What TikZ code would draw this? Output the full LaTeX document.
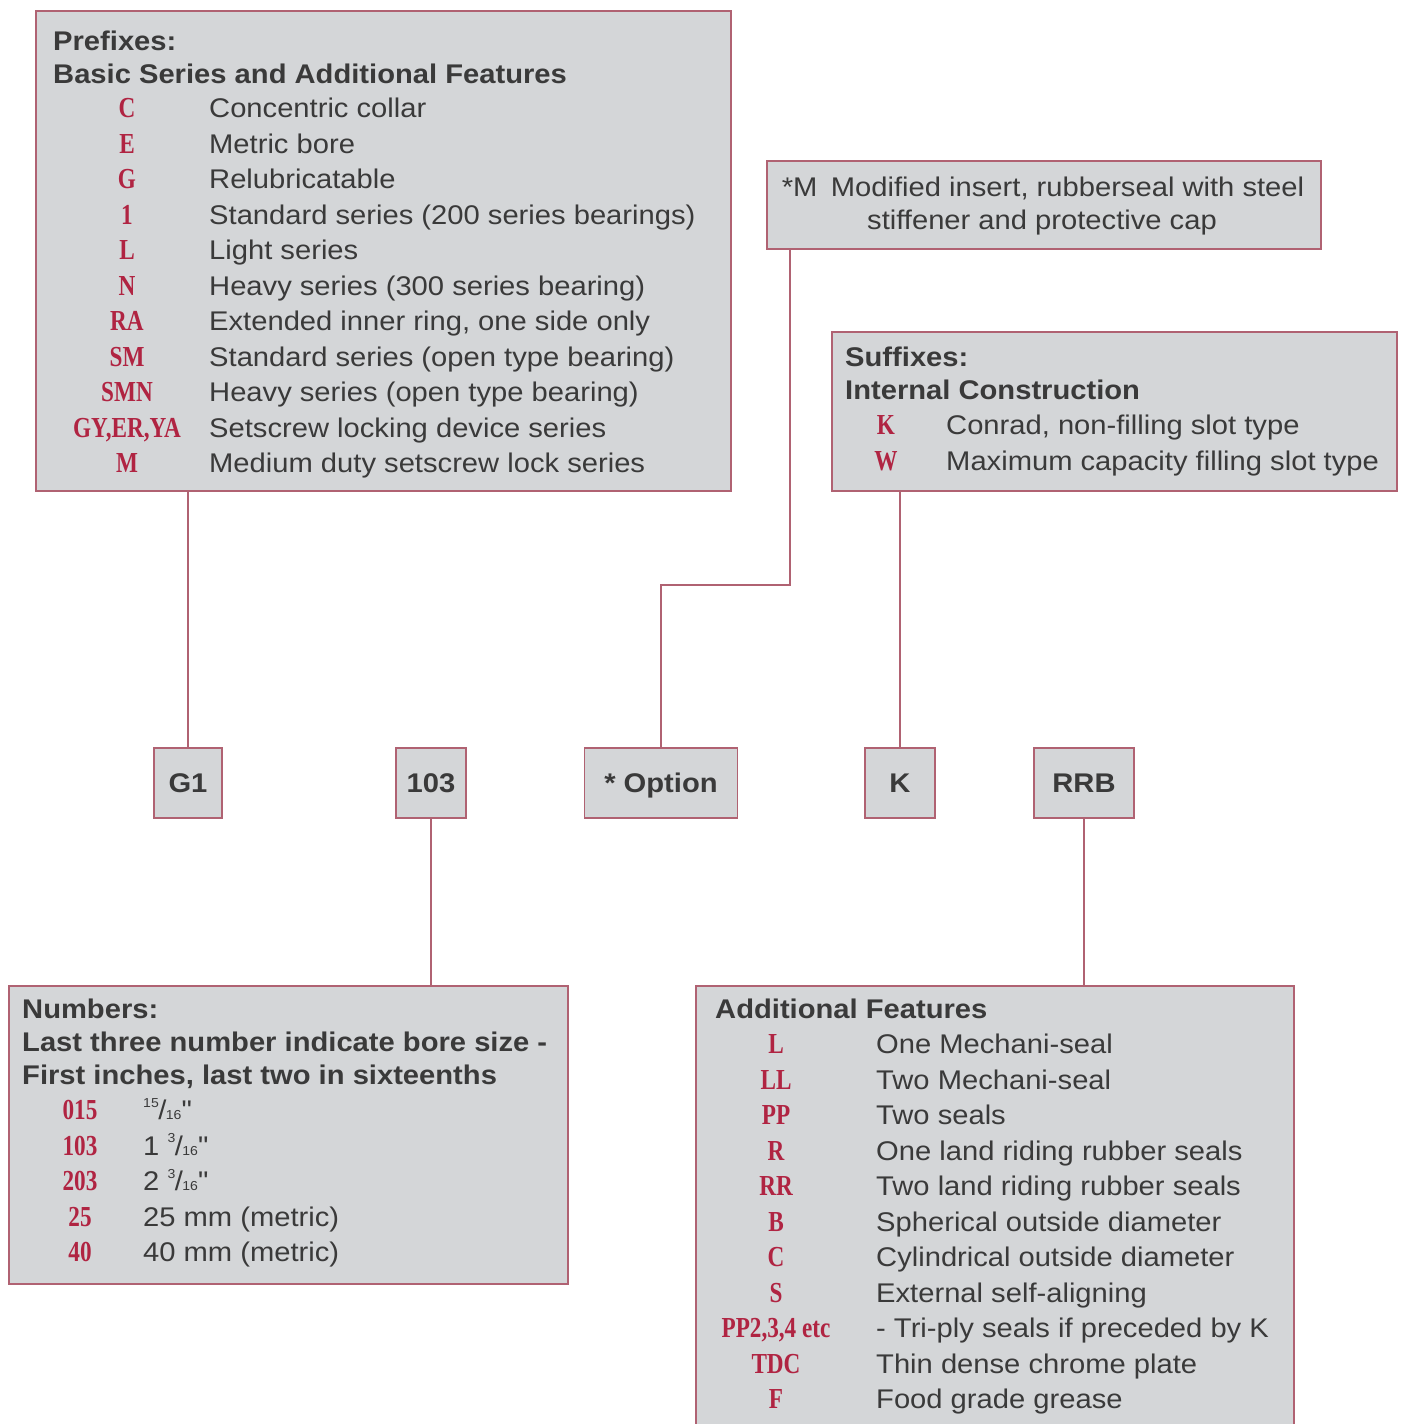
\documentclass[tikz,border=0pt]{standalone}
\usepackage{fontspec}
\setmainfont{Liberation Sans}[FakeStretch=1.08]
\newfontfamily\codefont{Liberation Serif}[FakeStretch=0.8]
\usetikzlibrary{positioning}

\definecolor{boxfill}{HTML}{D4D6D8}
\definecolor{boxline}{HTML}{B06272}
\definecolor{codered}{HTML}{B02442}
\definecolor{textgray}{HTML}{3A3A3A}

% sixteenths, set small
\newcommand{\sxt}[2]{\raisebox{.45em}{\fontsize{13}{13}\selectfont #1}\kern-.5pt/\kern-.5pt{\fontsize{13}{13}\selectfont #2}}

\tikzset{
    bigbox/.style={draw=boxline,line width=1.6pt,fill=boxfill,rectangle,anchor=north west,inner sep=0},
    tagbox/.style={draw=boxline,line width=1.6pt,fill=boxfill,rectangle,minimum height=70,
        text height=19.5pt,text depth=0pt,inner ysep=0,
        text=textgray,font=\fontsize{27}{32}\selectfont\bfseries},
    txt/.style={anchor=base west,inner sep=0,text=textgray,font=\fontsize{27}{32}\selectfont},
    hdr/.style={txt,font=\fontsize{27}{32}\selectfont\bfseries},
    cd/.style={anchor=base,inner sep=0,text=codered,font=\fontsize{29}{32}\codefont\bfseries},
    wire/.style={draw=boxline,line width=1.6pt}
}

\begin{document}
\begin{tikzpicture}[x=1pt,y=-1pt]
    \useasboundingbox (0,0) rectangle (1403,1424);

    % the five parts of the code
    \path
        (188,783)  node [tagbox,minimum width=68]  (g1) {G1}
     ++ (243,0)    node [tagbox,minimum width=70]  (bore) {103}
     ++ (230,0)    node [tagbox,minimum width=153] (opt) {* Option}
     ++ (239,0)    node [tagbox,minimum width=70]  (k) {K}
     ++ (184,0)    node [tagbox,minimum width=100] (rrb) {RRB}
     ;

    % boxes
    \node [bigbox,minimum width=695,minimum height=480] (prefix) at (35,10) {};
    \node [bigbox,minimum width=554,minimum height=88]  (mod)    at (766,160) {};
    \node [bigbox,minimum width=565,minimum height=159] (suffix) at (831,331) {};
    \node [bigbox,minimum width=559,minimum height=298] (numbers) at (8,985) {};
    \node [bigbox,minimum width=598,minimum height=445] (addfeat) at (695,985) {};

    % prefixes
    \node [hdr] (prefixhead) at (53,50) {Prefixes:};
    \node [hdr] (prefixsub) at (53,83) {Basic Series and Additional Features};
    \path
        (127,117.5) node [cd] (pC) {C}   +(82,0) node [txt] (pCt) {Concentric collar}
     ++ (0,35.5) node [cd] (pE) {E}      +(82,0) node [txt] (pEt) {Metric bore}
     ++ (0,35.5) node [cd] (pG) {G}      +(82,0) node [txt] (pGt) {Relubricatable}
     ++ (0,35.5) node [cd] (p1) {1}      +(82,0) node [txt] (p1t) {Standard series (200 series bearings)}
     ++ (0,35.5) node [cd] (pL) {L}      +(82,0) node [txt] (pLt) {Light series}
     ++ (0,35.5) node [cd] (pN) {N}      +(82,0) node [txt] (pNt) {Heavy series (300 series bearing)}
     ++ (0,35.5) node [cd] (pRA) {RA}    +(82,0) node [txt] (pRAt) {Extended inner ring, one side only}
     ++ (0,35.5) node [cd] (pSM) {SM}    +(82,0) node [txt] (pSMt) {Standard series (open type bearing)}
     ++ (0,35.5) node [cd] (pSMN) {SMN}  +(82,0) node [txt] (pSMNt) {Heavy series (open type bearing)}
     ++ (0,35.5) node [cd] (pGY) {GY,ER,YA} +(82,0) node [txt] (pGYt) {Setscrew locking device series}
     ++ (0,35.5) node [cd] (pM) {M}      +(82,0) node [txt] (pMt) {Medium duty setscrew lock series}
     ;

    % option
    \node [txt,anchor=base] (mod1) at (1043,196.5) {*M\enspace Modified insert, rubberseal with steel};
    \node [txt,anchor=base] (mod2) at (1042,229.5) {stiffener and protective cap};

    % suffixes
    \node [hdr] (suffixhead) at (845,366.5) {Suffixes:};
    \node [hdr] (suffixsub) at (845,399.5) {Internal Construction};
    \path
        (886,434.5) node [cd] (sK) {K}   +(60,0) node [txt] (sKt) {Conrad, non-filling slot type}
     ++ (0,35.5)    node [cd] (sW) {W}   +(60,0) node [txt] (sWt) {Maximum capacity filling slot type}
     ;

    % numbers
    \node [hdr] (numhead) at (22,1018.5) {Numbers:};
    \node [hdr] (numsub1) at (22,1051.5) {Last three number indicate bore size -};
    \node [hdr] (numsub2) at (22,1084.5) {First inches, last two in sixteenths};
    \path
        (80,1119.5) node [cd] (n015) {015} +(63,0) node [txt] (n015t) {\sxt{15}{16}\textquotedbl}
     ++ (0,35.5)    node [cd] (n103) {103} +(63,0) node [txt] (n103t) {1 \sxt{3}{16}\textquotedbl}
     ++ (0,35.5)    node [cd] (n203) {203} +(63,0) node [txt] (n203t) {2 \sxt{3}{16}\textquotedbl}
     ++ (0,35.5)    node [cd] (n25) {25}   +(63,0) node [txt] (n25t) {25 mm (metric)}
     ++ (0,35.5)    node [cd] (n40) {40}   +(63,0) node [txt] (n40t) {40 mm (metric)}
     ;

    % additional features
    \node [hdr] (addhead) at (715,1018.5) {Additional Features};
    \path
        (776,1053.5) node [cd] (aL) {L}  +(100,0) node [txt] (aLt) {One Mechani-seal}
     ++ (0,35.5) node [cd] (aLL) {LL}    +(100,0) node [txt] (aLLt) {Two Mechani-seal}
     ++ (0,35.5) node [cd] (aPP) {PP}    +(100,0) node [txt] (aPPt) {Two seals}
     ++ (0,35.5) node [cd] (aR) {R}      +(100,0) node [txt] (aRt) {One land riding rubber seals}
     ++ (0,35.5) node [cd] (aRR) {RR}    +(100,0) node [txt] (aRRt) {Two land riding rubber seals}
     ++ (0,35.5) node [cd] (aB) {B}      +(100,0) node [txt] (aBt) {Spherical outside diameter}
     ++ (0,35.5) node [cd] (aC) {C}      +(100,0) node [txt] (aCt) {Cylindrical outside diameter}
     ++ (0,35.5) node [cd] (aS) {S}      +(100,0) node [txt] (aSt) {External self-aligning}
     ++ (0,35.5) node [cd] (aPPn) {PP2,3,4 etc} +(100,0) node [txt] (aPPnt) {- Tri-ply seals if preceded by K}
     ++ (0,35.5) node [cd] (aTDC) {TDC}  +(100,0) node [txt] (aTDCt) {Thin dense chrome plate}
     ++ (0,35.5) node [cd] (aF) {F}      +(100,0) node [txt] (aFt) {Food grade grease}
     ;

    % connectors
    \coordinate (bend) at (661,585);
    \coordinate (modfoot) at ([xshift=24pt]mod.south west);
    \draw [wire] (g1.north) -- (g1.north |- prefix.south);
    \draw [wire] (bore.south) -- (bore.south |- numbers.north);
    \draw [wire] (opt.north) -- (bend) -| (modfoot);
    \draw [wire] (k.north) -- (k.north |- suffix.south);
    \draw [wire] (rrb.south) -- (rrb.south |- addfeat.north);
\end{tikzpicture}
\end{document}
